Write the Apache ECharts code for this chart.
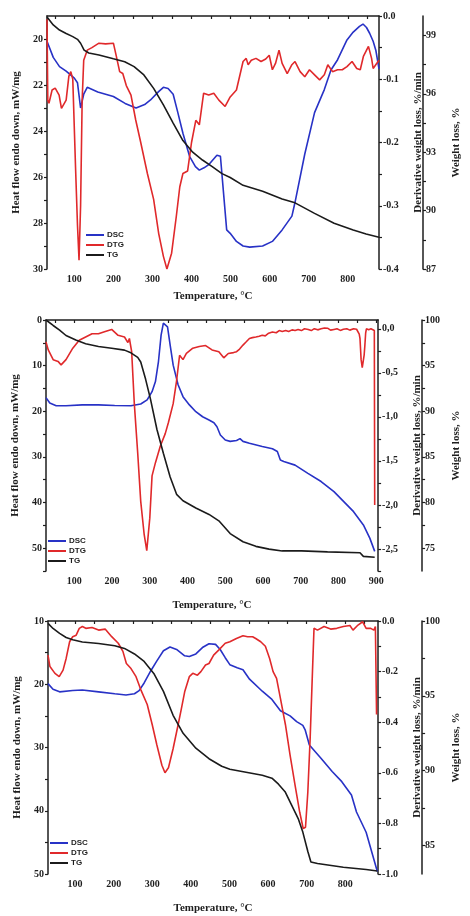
<!DOCTYPE html>
<html>
<head>
<meta charset="utf-8">
<script src="https://cdn.jsdelivr.net/npm/echarts@6/dist/echarts.min.js"></script>
<style>
html, body { margin: 0; padding: 0; background: #fff; }
#chart { width: 470px; height: 916px; }
</style>
</head>
<body>
<div id="chart"></div>
<script>
// ---- panel 1 ----
var dsc1 = [[30,20.1],[46,20.8],[62,21.2],[79,21.4],[100,21.7],[108,21.9],[116,23.0],[124,22.4],[133,22.1],[160,22.3],[200,22.5],[230,22.8],[258,23.0],[280,22.85],[295,22.65],[315,22.3],[328,22.1],[340,22.15],[353,22.4],[365,23.2],[378,24.1],[395,25.1],[410,25.55],[420,25.7],[432,25.6],[445,25.45],[465,25.05],[474,25.1],[482,26.7],[490,28.3],[499,28.45],[515,28.8],[532,29.0],[549,29.05],[582,29.0],[607,28.8],[632,28.3],[657,27.7],[661,27.4],[665,27.1],[690,25.0],[715,23.2],[740,22.2],[757,21.35],[774,20.9],[798,20.04],[814,19.7],[830,19.45],[839,19.35],[848,19.5],[856,19.75],[865,20.1],[872,20.5],[880,21.3]];
var dtg1 = [[30,-0.005],[32,-0.133],[35,-0.138],[43,-0.117],[51,-0.114],[61,-0.125],[67,-0.146],[79,-0.133],[86,-0.095],[91,-0.088],[96,-0.10],[103,-0.238],[108,-0.33],[112,-0.386],[116,-0.30],[120,-0.133],[124,-0.07],[133,-0.054],[145,-0.05],[163,-0.043],[180,-0.044],[200,-0.043],[208,-0.065],[216,-0.088],[224,-0.091],[233,-0.11],[245,-0.125],[257,-0.164],[270,-0.20],[287,-0.249],[303,-0.29],[316,-0.344],[328,-0.38],[337,-0.40],[349,-0.375],[361,-0.317],[370,-0.27],[378,-0.249],[390,-0.245],[400,-0.20],[411,-0.165],[420,-0.172],[431,-0.122],[444,-0.125],[457,-0.122],[470,-0.133],[486,-0.143],[499,-0.128],[515,-0.117],[532,-0.072],[540,-0.067],[545,-0.077],[553,-0.07],[565,-0.067],[578,-0.072],[590,-0.068],[599,-0.062],[607,-0.085],[615,-0.075],[624,-0.054],[632,-0.075],[645,-0.091],[657,-0.077],[665,-0.072],[678,-0.088],[690,-0.096],[702,-0.085],[715,-0.093],[728,-0.101],[740,-0.093],[749,-0.077],[761,-0.088],[774,-0.085],[786,-0.085],[798,-0.08],[811,-0.072],[823,-0.083],[832,-0.085],[840,-0.064],[853,-0.048],[861,-0.067],[865,-0.083],[874,-0.075],[880,-0.07]];
var tg1 = [[30,99.95],[46,99.54],[62,99.28],[79,99.1],[96,98.94],[108,98.8],[116,98.6],[125,98.25],[137,98.1],[163,98.0],[200,97.8],[229,97.65],[253,97.4],[278,96.97],[303,96.28],[328,95.43],[353,94.5],[378,93.6],[403,93.0],[428,92.6],[453,92.26],[478,91.9],[499,91.7],[532,91.3],[582,91.0],[632,90.6],[665,90.4],[715,89.86],[765,89.35],[814,89.0],[847,88.8],[880,88.63]];

// ---- panel 2 ----
var dsc2 = [[25,17.0],[35,18.2],[52,18.8],[78,18.8],[121,18.6],[164,18.6],[207,18.75],[250,18.8],[276,18.4],[293,17.5],[306,15.7],[315,13.5],[323,9.1],[330,3.3],[336,0.7],[341,0.4],[347,1.5],[354,5.5],[362,9.9],[375,14.2],[388,16.8],[405,18.6],[422,20.1],[440,21.2],[457,21.9],[470,22.5],[478,23.4],[487,25.2],[500,26.3],[513,26.6],[530,26.4],[539,26.0],[543,25.8],[547,26.6],[564,27.0],[598,27.7],[625,28.2],[638,28.8],[646,30.7],[655,31.0],[685,31.8],[719,33.6],[754,35.4],[788,37.6],[814,39.8],[840,42.0],[866,44.9],[883,47.8],[896,50.7]];
var dtg2 = [[25,-0.148],[31,-0.24],[44,-0.35],[57,-0.37],[65,-0.41],[78,-0.35],[96,-0.22],[113,-0.13],[130,-0.093],[147,-0.056],[164,-0.056],[182,-0.03],[199,-0.007],[216,-0.074],[233,-0.093],[242,-0.156],[246,-0.11],[252,-0.26],[259,-0.85],[268,-1.41],[276,-1.96],[285,-2.33],[292,-2.52],[295,-2.5],[300,-2.15],[306,-1.67],[315,-1.52],[328,-1.33],[341,-1.19],[349,-1.07],[362,-0.85],[371,-0.59],[379,-0.30],[384,-0.28],[388,-0.35],[397,-0.28],[414,-0.22],[431,-0.2],[448,-0.19],[465,-0.24],[483,-0.26],[496,-0.33],[508,-0.28],[513,-0.30],[522,-0.27],[530,-0.26],[538,-0.23],[547,-0.185],[555,-0.15],[564,-0.11],[572,-0.10],[581,-0.093],[590,-0.085],[598,-0.074],[606,-0.08],[615,-0.05],[625,-0.037],[635,-0.045],[643,-0.02],[651,-0.03],[660,-0.018],[668,-0.03],[677,-0.012],[685,-0.019],[693,-0.008],[702,-0.02],[710,0.0],[720,-0.007],[728,-0.02],[736,0.002],[745,-0.012],[754,0.0],[763,0.01],[771,0.007],[779,-0.015],[788,-0.007],[796,0.0],[805,-0.018],[813,-0.005],[822,0.0],[830,-0.015],[840,0.0],[848,-0.005],[852,-0.019],[855,-0.06],[857,-0.11],[860,-0.35],[863,-0.44],[866,-0.44],[868,-0.3],[870,-0.185],[872,-0.05],[874,0.0],[880,-0.01],[886,0.0],[891,-0.005],[895,-0.02],[896,-2.0]];
var tg2 = [[25,100],[44,99.4],[61,98.9],[78,98.3],[104,97.8],[130,97.4],[164,97.1],[199,96.9],[233,96.7],[250,96.4],[268,95.9],[276,95.4],[289,93.5],[302,91.3],[319,88.0],[336,85.4],[354,82.8],[371,80.9],[388,80.2],[422,79.4],[457,78.7],[483,78.0],[513,76.6],[547,75.7],[581,75.2],[616,74.9],[651,74.7],[702,74.7],[771,74.6],[857,74.5],[866,74.1],[896,74.0]];

// ---- panel 3 ----
var dsc3 = [[30,19.9],[43,20.8],[60,21.2],[94,21.0],[119,20.9],[161,21.2],[203,21.5],[232,21.7],[254,21.5],[266,21.0],[279,19.8],[296,17.9],[312,16.3],[329,14.7],[346,14.1],[363,14.5],[384,15.5],[396,15.6],[413,15.2],[430,14.2],[447,13.6],[464,13.7],[476,14.5],[489,15.8],[501,16.9],[520,17.4],[535,17.7],[552,19.2],[585,21.1],[610,22.4],[632,24.2],[657,25.0],[674,25.9],[690,26.5],[696,27.2],[707,29.6],[737,31.7],[766,33.8],[791,35.4],[816,37.5],[829,40.2],[854,43.4],[883,49.6]];
var dtg3 = [[30,-0.135],[35,-0.18],[48,-0.207],[59,-0.22],[69,-0.194],[77,-0.148],[86,-0.082],[94,-0.062],[103,-0.056],[111,-0.029],[119,-0.022],[128,-0.029],[144,-0.026],[161,-0.036],[178,-0.032],[195,-0.062],[212,-0.088],[224,-0.12],[233,-0.168],[245,-0.188],[258,-0.22],[270,-0.27],[287,-0.33],[300,-0.41],[312,-0.49],[325,-0.57],[333,-0.60],[342,-0.58],[354,-0.505],[367,-0.41],[375,-0.35],[384,-0.28],[396,-0.22],[405,-0.207],[417,-0.214],[426,-0.2],[438,-0.174],[447,-0.168],[459,-0.135],[472,-0.115],[489,-0.088],[501,-0.082],[518,-0.069],[535,-0.058],[547,-0.062],[560,-0.062],[568,-0.069],[581,-0.082],[593,-0.1],[604,-0.148],[613,-0.2],[622,-0.227],[632,-0.306],[645,-0.41],[657,-0.53],[670,-0.65],[682,-0.756],[691,-0.82],[697,-0.815],[703,-0.676],[709,-0.465],[715,-0.20],[719,-0.029],[728,-0.036],[745,-0.022],[762,-0.032],[778,-0.029],[795,-0.022],[812,-0.018],[820,-0.036],[833,-0.016],[845,-0.003],[854,-0.029],[866,-0.029],[874,-0.036],[878,-0.022],[881,-0.37]];
var tg3 = [[30,99.84],[43,99.5],[60,99.17],[77,98.9],[94,98.75],[119,98.6],[161,98.5],[203,98.35],[228,98.17],[254,97.8],[279,97.3],[304,96.5],[329,95.3],[354,93.7],[380,92.5],[413,91.5],[447,90.8],[480,90.3],[501,90.1],[543,89.9],[585,89.7],[610,89.5],[627,89.1],[644,88.6],[661,87.7],[678,86.8],[690,85.9],[703,84.6],[711,83.9],[728,83.8],[795,83.55],[854,83.4],[883,83.3]];

// ---- tick values ----
var xTicks1 = [50,100,150,200,250,300,350,400,450,500,550,600,650,700,750,800,850];
var xLabels1 = [100,200,300,400,500,600,700,800];
var xTicks2 = [50,100,150,200,250,300,350,400,450,500,550,600,650,700,750,800,850,900];
var xLabels2 = [100,200,300,400,500,600,700,800,900];

var hfTicks1 = [20,21,22,23,24,25,26,27,28,29,30];
var hfLabels1 = [20,22,24,26,28,30];
var dtTicks1 = [0,-0.05,-0.1,-0.15,-0.2,-0.25,-0.3,-0.35,-0.4];
var dtLabels1 = [0,-0.1,-0.2,-0.3,-0.4];
var wlTicks1 = [87,88.5,90,91.5,93,94.5,96,97.5,99];
var wlLabels1 = [87,90,93,96,99];

var hfTicks2 = [0,5,10,15,20,25,30,35,40,45,50,55];
var hfLabels2 = [0,10,20,30,40,50];
var dtTicks2 = [0,-0.25,-0.5,-0.75,-1,-1.25,-1.5,-1.75,-2,-2.25,-2.5,-2.75];
var dtLabels2 = [0,-0.5,-1,-1.5,-2,-2.5];
var wlTicks2 = [75,77.5,80,82.5,85,87.5,90,92.5,95,97.5,100];
var wlLabels2 = [75,80,85,90,95,100];

var hfTicks3 = [10,15,20,25,30,35,40,45,50];
var hfLabels3 = [10,20,30,40,50];
var dtTicks3 = [0,-0.1,-0.2,-0.3,-0.4,-0.5,-0.6,-0.7,-0.8,-0.9,-1];
var dtLabels3 = [0,-0.2,-0.4,-0.6,-0.8,-1];
var wlTicks3 = [85,87.5,90,92.5,95,97.5,100];
var wlLabels3 = [85,90,95,100];

var SERIF = 'Liberation Serif';
var SANS = 'Liberation Sans';
var INK = '#1e1e1e';
var COLORS = { DSC: '#2832c6', DTG: '#e0292b', TG: '#1b1b1b' };

var panels = [
  { grid: { left: 47, top: 16, width: 341, height: 253 }, xMin: 30, xMax: 880, xTicks: xTicks1, xLabels: xLabels1, xGap: 22,
    hf: [19, 30, hfTicks1, hfLabels1], dt: [-0.4, 0, dtTicks1, dtLabels1, '.'], wl: [87, 100, wlTicks1, wlLabels1],
    legend: { left: 86, top: 231 }, dsc: dsc1, dtg: dtg1, tg: tg1 },
  { grid: { left: 46, top: 320, width: 341, height: 251 }, xMin: 25, xMax: 905, xTicks: xTicks2, xLabels: xLabels2, xGap: 29,
    hf: [0, 55, hfTicks2, hfLabels2], dt: [-2.75, 0.1, dtTicks2, dtLabels2, ','], wl: [72.5, 100, wlTicks2, wlLabels2],
    legend: { left: 48, top: 537 }, dsc: dsc2, dtg: dtg2, tg: tg2 },
  { grid: { left: 48, top: 621, width: 339, height: 253 }, xMin: 30, xMax: 885, xTicks: xTicks1, xLabels: xLabels1, xGap: 29,
    hf: [10, 50, hfTicks3, hfLabels3], dt: [-1, 0, dtTicks3, dtLabels3, '.'], wl: [83.1, 100, wlTicks3, wlLabels3],
    legend: { left: 50, top: 839 }, dsc: dsc3, dtg: dtg3, tg: tg3 }
];

var labelStyle = { fontFamily: SERIF, fontWeight: 'bold', fontSize: 10, color: INK };
var nameStyle = { fontFamily: SERIF, fontWeight: 'bold', fontSize: 11, color: INK };
var lineStyle = { color: INK, width: 1.5 };

var option = { animation: false, backgroundColor: '#fff', grid: [], xAxis: [], yAxis: [], legend: [], series: [] };

panels.forEach(function (p, i) {
  option.grid.push(p.grid);
  option.xAxis.push({
    gridIndex: i, type: 'value', min: p.xMin, max: p.xMax,
    name: 'Temperature, °C', nameLocation: 'middle', nameGap: p.xGap, nameTextStyle: nameStyle,
    axisLine: { lineStyle: lineStyle },
    axisTick: { customValues: p.xTicks, length: 3, lineStyle: { color: INK, width: 1.2 } },
    axisLabel: { customValues: p.xLabels, margin: 5, textStyle: labelStyle },
    splitLine: { show: false }
  });
  var yBase = option.yAxis.length;
  // heat flow (left, endo down)
  option.yAxis.push({
    gridIndex: i, type: 'value', position: 'left', inverse: true, min: p.hf[0], max: p.hf[1],
    name: 'Heat flow endo down, mW/mg', nameLocation: 'middle', nameRotate: 90, nameGap: 23, nameTextStyle: nameStyle,
    axisLine: { show: true, lineStyle: lineStyle },
    axisTick: { show: true, customValues: p.hf[2], length: 3, lineStyle: { color: INK, width: 1.2 } },
    axisLabel: { customValues: p.hf[3], margin: 4, textStyle: labelStyle },
    splitLine: { show: false }
  });
  // derivative weight loss
  var sep = p.dt[4];
  option.yAxis.push({
    gridIndex: i, type: 'value', position: 'right', min: p.dt[0], max: p.dt[1],
    name: 'Derivative weight loss, %/min', nameLocation: 'middle', nameRotate: 90, nameGap: 34, nameTextStyle: nameStyle,
    axisLine: { show: true, onZero: false, lineStyle: lineStyle },
    axisTick: { show: true, customValues: p.dt[2], length: 3, lineStyle: { color: INK, width: 1.2 } },
    axisLabel: { customValues: p.dt[3], margin: 4, textStyle: labelStyle,
      formatter: function (v) { return (Math.abs(v) < 1e-9 ? 0 : v).toFixed(1).replace('.', sep); } },
    splitLine: { show: false }
  });
  // weight loss
  option.yAxis.push({
    gridIndex: i, type: 'value', position: 'right', offset: 44, min: p.wl[0], max: p.wl[1],
    name: 'Weight loss, %', nameLocation: 'middle', nameRotate: 90, nameGap: 28, nameTextStyle: nameStyle,
    axisLine: { show: true, onZero: false, lineStyle: lineStyle },
    axisTick: { show: true, customValues: p.wl[2], length: 3, lineStyle: { color: INK, width: 1.2 } },
    axisLabel: { customValues: p.wl[3], margin: 3, textStyle: labelStyle },
    splitLine: { show: false }
  });
  option.legend.push({
    orient: 'vertical', left: p.legend.left, top: p.legend.top, padding: 0, itemGap: 2,
    itemWidth: 18, itemHeight: 2, icon: 'rect',
    textStyle: { fontFamily: SANS, fontWeight: 'bold', fontSize: 8, color: INK, padding: [0, 0, 0, -2] },
    data: ['DSC', 'DTG', 'TG']
  });
  [['DSC', p.dsc, 0], ['DTG', p.dtg, 1], ['TG', p.tg, 2]].forEach(function (s) {
    option.series.push({
      name: s[0], type: 'line', xAxisIndex: i, yAxisIndex: yBase + s[2], data: s[1],
      showSymbol: false, symbol: 'none', smooth: false,
      lineStyle: { color: COLORS[s[0]], width: 1.6 }, itemStyle: { color: COLORS[s[0]] }
    });
  });
});

echarts.init(document.getElementById('chart')).setOption(option);
</script>
</body>
</html>
